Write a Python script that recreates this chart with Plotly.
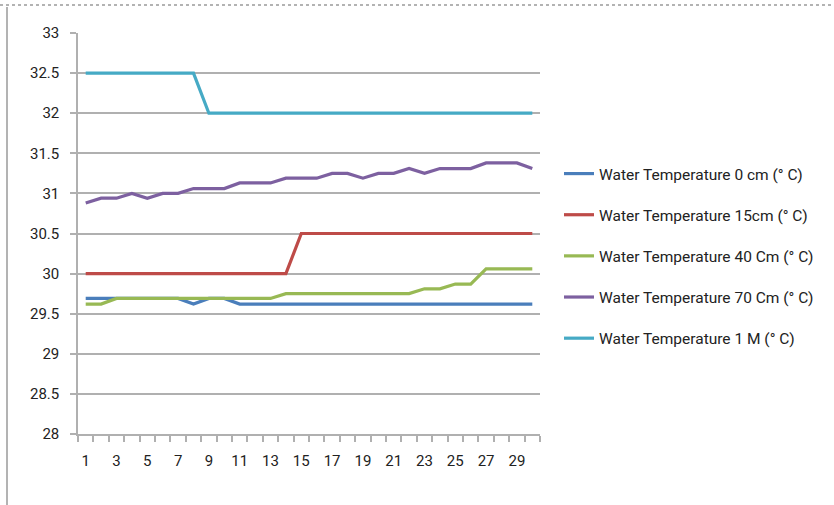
import plotly.graph_objects as go

days = list(range(1, 31))
t0cm = [29.69]*7 + [29.62] + [29.69]*2 + [29.62]*20
t15cm = [30.0]*14 + [30.5]*16
t40cm = [29.62]*2 + [29.69]*11 + [29.75]*9 + [29.81]*2 + [29.87]*2 + [30.06]*4
t70cm = [30.88, 30.94, 30.94, 31.0, 30.94, 31.0, 31.0, 31.06, 31.06, 31.06,
         31.13, 31.13, 31.13, 31.19, 31.19, 31.19, 31.25, 31.25, 31.19, 31.25,
         31.25, 31.31, 31.25, 31.31, 31.31, 31.31, 31.38, 31.38, 31.38, 31.31]
t1m = [32.5]*8 + [32.0]*22

series = [
    ("Water Temperature 0 cm (° C)", t0cm, "#4A7EBB"),
    ("Water Temperature 15cm (° C)", t15cm, "#BE4B48"),
    ("Water Temperature 40 Cm (° C)", t40cm, "#98B954"),
    ("Water Temperature 70 Cm (° C)", t70cm, "#7D60A0"),
    ("Water Temperature 1 M (° C)", t1m, "#46AAC5"),
]

FONT = "Liberation Sans Narrow, Arial Narrow, Roboto, sans-serif"

fig = go.Figure()
for i, (name, vals, col) in enumerate(series):
    fig.add_trace(go.Scatter(x=days, y=vals, name=name, mode="lines",
                             line=dict(color=col, width=3.2),
                             legendgroup=str(i)))

W, H = 834, 505
L, R, T, B = 78, 540, 33, 434

def px(x):
    return (x - L) / (R - L)

def py(y):
    return (B - y) / (B - T)

fig.update_layout(
    width=W, height=H,
    margin=dict(l=L, r=W - R, t=T, b=H - B),
    paper_bgcolor="white", plot_bgcolor="white",
    font=dict(family=FONT, size=15, color="#222222"),
    showlegend=True,
    legend=dict(x=px(559), y=py(157), xanchor="left", yanchor="top",
                font=dict(family=FONT, size=15.5, color="#222222"),
                tracegroupgap=18, itemwidth=30, bgcolor="rgba(0,0,0,0)"),
    xaxis=dict(range=[0.5, 30.5], tickmode="array",
               tickvals=list(range(1, 30, 2)),
               ticktext=[str(v) for v in range(1, 30, 2)],
               ticks="", showgrid=False, zeroline=False, ticklabelstandoff=12,
               showline=True, linecolor="#b0b0b0", linewidth=1.5,
               tickfont=dict(family=FONT, size=15, color="#222222"),
               minor=dict(tickmode="linear", tick0=0.5, dtick=1, ticks="outside",
                          ticklen=6, tickcolor="#b0b0b0", tickwidth=1.5,
                          showgrid=False)),
    yaxis=dict(range=[28, 33], dtick=0.5, tick0=28, ticks="outside", ticklen=6,
               tickcolor="#b0b0b0", tickwidth=1.5, ticklabelstandoff=8,
               showgrid=True, gridcolor="#b0b0b0", gridwidth=1.5,
               zeroline=False, showline=True, linecolor="#b0b0b0", linewidth=1.5,
               tickfont=dict(family=FONT, size=15, color="#222222")),
    shapes=[
        dict(type="line", xref="paper", yref="paper",
             x0=px(0), x1=px(834), y0=py(5), y1=py(5),
             line=dict(color="#9a9a9a", width=1.5, dash="dot")),
        dict(type="line", xref="paper", yref="paper",
             x0=px(7), x1=px(7), y0=py(7), y1=py(505),
             line=dict(color="#9a9a9a", width=1.5)),
    ],
)

fig.write_html("out.html", config={"displayModeBar": False},
               post_script="document.body.style.margin='0';document.body.style.overflow='hidden';")
